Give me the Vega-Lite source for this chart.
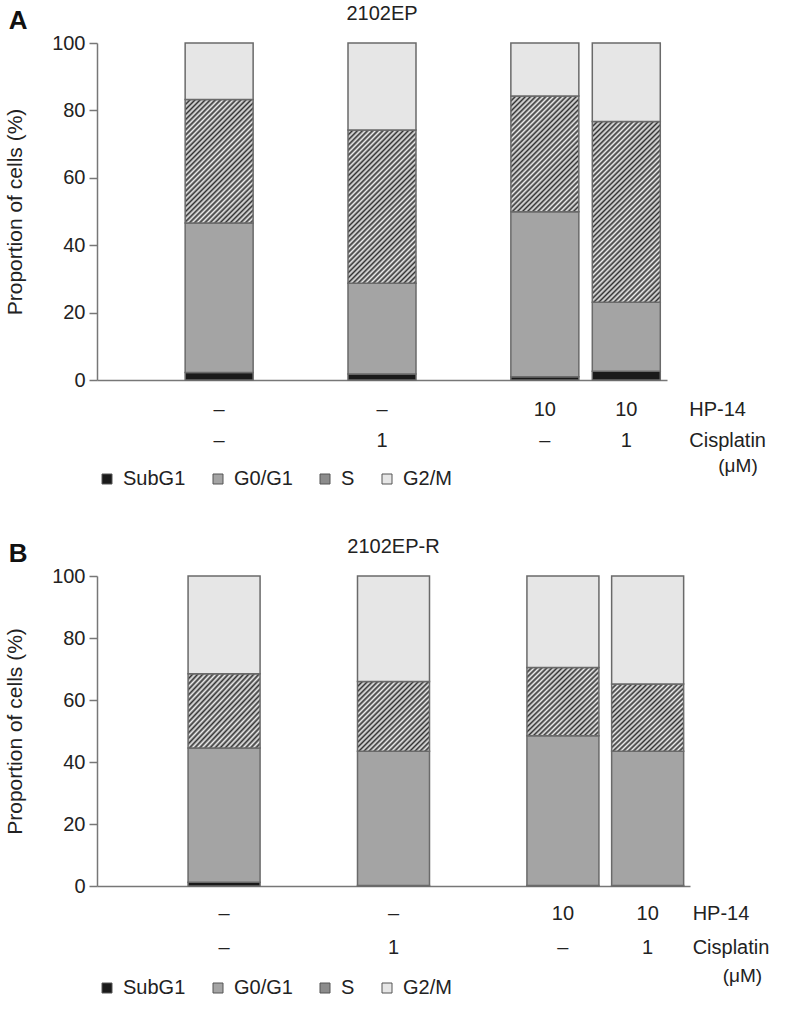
{
  "$schema": "https://vega.github.io/schema/vega-lite/v6.json",
  "background": "white",
  "padding": 4,
  "params": [
    {"name": "hatch", "value": [
      {"offset":0,"color":"#333333"},{"offset":0.01,"color":"#eeeeee"},{"offset":0.02,"color":"#333333"},{"offset":0.03,"color":"#eeeeee"},{"offset":0.04,"color":"#333333"},{"offset":0.05,"color":"#eeeeee"},{"offset":0.06,"color":"#333333"},{"offset":0.07,"color":"#eeeeee"},{"offset":0.08,"color":"#333333"},{"offset":0.09,"color":"#eeeeee"},
      {"offset":0.1,"color":"#333333"},{"offset":0.11,"color":"#eeeeee"},{"offset":0.12,"color":"#333333"},{"offset":0.13,"color":"#eeeeee"},{"offset":0.14,"color":"#333333"},{"offset":0.15,"color":"#eeeeee"},{"offset":0.16,"color":"#333333"},{"offset":0.17,"color":"#eeeeee"},{"offset":0.18,"color":"#333333"},{"offset":0.19,"color":"#eeeeee"},
      {"offset":0.2,"color":"#333333"},{"offset":0.21,"color":"#eeeeee"},{"offset":0.22,"color":"#333333"},{"offset":0.23,"color":"#eeeeee"},{"offset":0.24,"color":"#333333"},{"offset":0.25,"color":"#eeeeee"},{"offset":0.26,"color":"#333333"},{"offset":0.27,"color":"#eeeeee"},{"offset":0.28,"color":"#333333"},{"offset":0.29,"color":"#eeeeee"},
      {"offset":0.3,"color":"#333333"},{"offset":0.31,"color":"#eeeeee"},{"offset":0.32,"color":"#333333"},{"offset":0.33,"color":"#eeeeee"},{"offset":0.34,"color":"#333333"},{"offset":0.35,"color":"#eeeeee"},{"offset":0.36,"color":"#333333"},{"offset":0.37,"color":"#eeeeee"},{"offset":0.38,"color":"#333333"},{"offset":0.39,"color":"#eeeeee"},
      {"offset":0.4,"color":"#333333"},{"offset":0.41,"color":"#eeeeee"},{"offset":0.42,"color":"#333333"},{"offset":0.43,"color":"#eeeeee"},{"offset":0.44,"color":"#333333"},{"offset":0.45,"color":"#eeeeee"},{"offset":0.46,"color":"#333333"},{"offset":0.47,"color":"#eeeeee"},{"offset":0.48,"color":"#333333"},{"offset":0.49,"color":"#eeeeee"},
      {"offset":0.5,"color":"#333333"},{"offset":0.51,"color":"#eeeeee"},{"offset":0.52,"color":"#333333"},{"offset":0.53,"color":"#eeeeee"},{"offset":0.54,"color":"#333333"},{"offset":0.55,"color":"#eeeeee"},{"offset":0.56,"color":"#333333"},{"offset":0.57,"color":"#eeeeee"},{"offset":0.58,"color":"#333333"},{"offset":0.59,"color":"#eeeeee"},
      {"offset":0.6,"color":"#333333"},{"offset":0.61,"color":"#eeeeee"},{"offset":0.62,"color":"#333333"},{"offset":0.63,"color":"#eeeeee"},{"offset":0.64,"color":"#333333"},{"offset":0.65,"color":"#eeeeee"},{"offset":0.66,"color":"#333333"},{"offset":0.67,"color":"#eeeeee"},{"offset":0.68,"color":"#333333"},{"offset":0.69,"color":"#eeeeee"},
      {"offset":0.7,"color":"#333333"},{"offset":0.71,"color":"#eeeeee"},{"offset":0.72,"color":"#333333"},{"offset":0.73,"color":"#eeeeee"},{"offset":0.74,"color":"#333333"},{"offset":0.75,"color":"#eeeeee"},{"offset":0.76,"color":"#333333"},{"offset":0.77,"color":"#eeeeee"},{"offset":0.78,"color":"#333333"},{"offset":0.79,"color":"#eeeeee"},
      {"offset":0.8,"color":"#333333"},{"offset":0.81,"color":"#eeeeee"},{"offset":0.82,"color":"#333333"},{"offset":0.83,"color":"#eeeeee"},{"offset":0.84,"color":"#333333"},{"offset":0.85,"color":"#eeeeee"},{"offset":0.86,"color":"#333333"},{"offset":0.87,"color":"#eeeeee"},{"offset":0.88,"color":"#333333"},{"offset":0.89,"color":"#eeeeee"},
      {"offset":0.9,"color":"#333333"},{"offset":0.91,"color":"#eeeeee"},{"offset":0.92,"color":"#333333"},{"offset":0.93,"color":"#eeeeee"},{"offset":0.94,"color":"#333333"},{"offset":0.95,"color":"#eeeeee"},{"offset":0.96,"color":"#333333"},{"offset":0.97,"color":"#eeeeee"},{"offset":0.98,"color":"#333333"},{"offset":0.99,"color":"#eeeeee"},
      {"offset":1,"color":"#333333"}
    ]}
  ],
  "datasets": {
    "cycle": [
      {"panel":"A","treatment":"–|–","hp":"–","cis":"–","phase":"SubG1","lo":0,"hi":2.2},
      {"panel":"A","treatment":"–|–","hp":"–","cis":"–","phase":"G0/G1","lo":2.2,"hi":46.6},
      {"panel":"A","treatment":"–|–","hp":"–","cis":"–","phase":"S","lo":46.6,"hi":83.2},
      {"panel":"A","treatment":"–|–","hp":"–","cis":"–","phase":"G2/M","lo":83.2,"hi":100},
      {"panel":"A","treatment":"–|1","hp":"–","cis":"1","phase":"SubG1","lo":0,"hi":1.8},
      {"panel":"A","treatment":"–|1","hp":"–","cis":"1","phase":"G0/G1","lo":1.8,"hi":28.7},
      {"panel":"A","treatment":"–|1","hp":"–","cis":"1","phase":"S","lo":28.7,"hi":74.2},
      {"panel":"A","treatment":"–|1","hp":"–","cis":"1","phase":"G2/M","lo":74.2,"hi":100},
      {"panel":"A","treatment":"10|–","hp":"10","cis":"–","phase":"SubG1","lo":0,"hi":1.0},
      {"panel":"A","treatment":"10|–","hp":"10","cis":"–","phase":"G0/G1","lo":1.0,"hi":49.9},
      {"panel":"A","treatment":"10|–","hp":"10","cis":"–","phase":"S","lo":49.9,"hi":84.3},
      {"panel":"A","treatment":"10|–","hp":"10","cis":"–","phase":"G2/M","lo":84.3,"hi":100},
      {"panel":"A","treatment":"10|1","hp":"10","cis":"1","phase":"SubG1","lo":0,"hi":2.6},
      {"panel":"A","treatment":"10|1","hp":"10","cis":"1","phase":"G0/G1","lo":2.6,"hi":23.1},
      {"panel":"A","treatment":"10|1","hp":"10","cis":"1","phase":"S","lo":23.1,"hi":76.7},
      {"panel":"A","treatment":"10|1","hp":"10","cis":"1","phase":"G2/M","lo":76.7,"hi":100},
      {"panel":"B","treatment":"–|–","hp":"–","cis":"–","phase":"SubG1","lo":0,"hi":1.2},
      {"panel":"B","treatment":"–|–","hp":"–","cis":"–","phase":"G0/G1","lo":1.2,"hi":44.5},
      {"panel":"B","treatment":"–|–","hp":"–","cis":"–","phase":"S","lo":44.5,"hi":68.5},
      {"panel":"B","treatment":"–|–","hp":"–","cis":"–","phase":"G2/M","lo":68.5,"hi":100},
      {"panel":"B","treatment":"–|1","hp":"–","cis":"1","phase":"SubG1","lo":0,"hi":0.2},
      {"panel":"B","treatment":"–|1","hp":"–","cis":"1","phase":"G0/G1","lo":0.2,"hi":43.5},
      {"panel":"B","treatment":"–|1","hp":"–","cis":"1","phase":"S","lo":43.5,"hi":66},
      {"panel":"B","treatment":"–|1","hp":"–","cis":"1","phase":"G2/M","lo":66,"hi":100},
      {"panel":"B","treatment":"10|–","hp":"10","cis":"–","phase":"SubG1","lo":0,"hi":0.2},
      {"panel":"B","treatment":"10|–","hp":"10","cis":"–","phase":"G0/G1","lo":0.2,"hi":48.5},
      {"panel":"B","treatment":"10|–","hp":"10","cis":"–","phase":"S","lo":48.5,"hi":70.5},
      {"panel":"B","treatment":"10|–","hp":"10","cis":"–","phase":"G2/M","lo":70.5,"hi":100},
      {"panel":"B","treatment":"10|1","hp":"10","cis":"1","phase":"SubG1","lo":0,"hi":0.2},
      {"panel":"B","treatment":"10|1","hp":"10","cis":"1","phase":"G0/G1","lo":0.2,"hi":43.5},
      {"panel":"B","treatment":"10|1","hp":"10","cis":"1","phase":"S","lo":43.5,"hi":65.2},
      {"panel":"B","treatment":"10|1","hp":"10","cis":"1","phase":"G2/M","lo":65.2,"hi":100}
    ]
  },
  "spacing": 48,
  "resolve": {"scale": {"x": "independent", "y": "independent", "fill": "independent"}, "legend": {"fill": "independent"}},
  "vconcat": [
    {
      "title": {"text": "A", "anchor": "start", "frame": "bounds", "fontSize": 26, "fontWeight": "bold", "offset": -30, "dx": 4, "color": "#111111"},
      "resolve": {"scale": {"x": "independent", "y": "independent", "fill": "independent"}, "legend": {"fill": "independent"}},
      "vconcat": [
        {
          "title": {"text": "2102EP", "fontSize": 20, "fontWeight": "normal", "offset": 9, "color": "#222222"},
          "width": 570,
          "height": 337,
          "data": {"name": "cycle"},
          "transform": [{"filter": "datum.panel === 'A'"}],
          "encoding": {
            "x": {"field": "treatment", "type": "nominal", "title": null,
                  "scale": {"domain": ["e1", "–|–", "e3", "–|1", "e5", "10|–", "10|1"], "paddingInner": 0.165, "paddingOuter": 0.0825},
                  "axis": {"labels": false, "ticks": false, "domainColor": "#777777", "domainWidth": 1.5}}
          },
          "layer": [
            {
              "mark": {"type": "bar", "stroke": "#6a6a6a", "strokeWidth": 1.5},
              "encoding": {
                "y": {"field": "hi", "type": "quantitative", "scale": {"domain": [0, 100]},
                      "axis": {"values": [0, 20, 40, 60, 80, 100], "title": "Proportion of cells (%)", "titleFontSize": 21, "titleFontWeight": "normal", "titlePadding": 26,
                               "labelFontSize": 20, "labelPadding": 4, "tickSize": 8, "tickWidth": 1.5, "tickColor": "#777777", "domainColor": "#777777", "domainWidth": 1.5, "grid": false}},
                "y2": {"field": "lo"},
                "fill": {
                  "field": "phase", "type": "nominal",
                  "scale": {"domain": ["SubG1", "G0/G1", "S", "G2/M"], "range": ["#1a1a1a", "#a4a4a4", "#8c8c8c", "#e6e6e6"]},
                  "condition": [
                    {"test": "datum.phase === 'S' && datum.treatment === '–|–'", "value": {"expr": "{gradient: 'linear', x1: 0, y1: 0, x2: 0.876, y2: 1.585, stops: hatch}"}},
                    {"test": "datum.phase === 'S' && datum.treatment === '–|1'", "value": {"expr": "{gradient: 'linear', x1: 0, y1: 0, x2: 0.618, y2: 1.390, stops: hatch}"}},
                    {"test": "datum.phase === 'S' && datum.treatment === '10|–'", "value": {"expr": "{gradient: 'linear', x1: 0, y1: 0, x2: 0.958, y2: 1.633, stops: hatch}"}},
                    {"test": "datum.phase === 'S' && datum.treatment === '10|1'", "value": {"expr": "{gradient: 'linear', x1: 0, y1: 0, x2: 0.459, y2: 1.228, stops: hatch}"}}
                  ],
                  "legend": {"orient": "bottom", "direction": "horizontal", "title": null, "offset": 89, "padding": 0,
                             "symbolType": "square", "symbolSize": 100, "symbolStrokeColor": "#555555", "symbolStrokeWidth": 1,
                             "labelFontSize": 20, "labelOffset": 6, "columnPadding": 22}
                }
              }
            },
            {
              "transform": [{"filter": "datum.phase === 'SubG1'"}],
              "mark": {"type": "text", "fontSize": 20, "baseline": "middle", "color": "#222222"},
              "encoding": {
                "y": {"datum": -8.9, "type": "quantitative"},
                "text": {"field": "hp"}
              }
            },
            {
              "transform": [{"filter": "datum.phase === 'SubG1'"}],
              "mark": {"type": "text", "fontSize": 20, "baseline": "middle", "color": "#222222"},
              "encoding": {
                "y": {"datum": -18.2, "type": "quantitative"},
                "text": {"field": "cis"}
              }
            },
            {
              "transform": [{"filter": "datum.phase === 'SubG1' && datum.treatment === '10|1'"}],
              "mark": {"type": "text", "fontSize": 20, "baseline": "middle", "align": "left", "dx": 63, "color": "#222222"},
              "encoding": {
                "y": {"datum": -8.9, "type": "quantitative"},
                "text": {"value": "HP-14"}
              }
            },
            {
              "transform": [{"filter": "datum.phase === 'SubG1' && datum.treatment === '10|1'"}],
              "mark": {"type": "text", "fontSize": 20, "baseline": "middle", "align": "left", "dx": 63, "color": "#222222"},
              "encoding": {
                "y": {"datum": -18.2, "type": "quantitative"},
                "text": {"value": "Cisplatin"}
              }
            },
            {
              "transform": [{"filter": "datum.phase === 'SubG1' && datum.treatment === '10|1'"}],
              "mark": {"type": "text", "fontSize": 19, "baseline": "middle", "align": "left", "dx": 92, "color": "#222222"},
              "encoding": {
                "y": {"datum": -25.6, "type": "quantitative"},
                "text": {"value": "(μM)"}
              }
            }
          ]
        }
      ]
    },
    {
      "title": {"text": "B", "anchor": "start", "frame": "bounds", "fontSize": 26, "fontWeight": "bold", "offset": -30, "dx": 4, "color": "#111111"},
      "resolve": {"scale": {"x": "independent", "y": "independent", "fill": "independent"}, "legend": {"fill": "independent"}},
      "vconcat": [
        {
          "title": {"text": "2102EP-R", "fontSize": 20, "fontWeight": "normal", "offset": 9, "color": "#222222"},
          "width": 593,
          "height": 310,
          "data": {"name": "cycle"},
          "transform": [{"filter": "datum.panel === 'B'"}],
          "encoding": {
            "x": {"field": "treatment", "type": "nominal", "title": null,
                  "scale": {"domain": ["e1", "–|–", "e3", "–|1", "e5", "10|–", "10|1"], "paddingInner": 0.15, "paddingOuter": 0.075},
                  "axis": {"labels": false, "ticks": false, "domainColor": "#777777", "domainWidth": 1.5}}
          },
          "layer": [
            {
              "mark": {"type": "bar", "stroke": "#6a6a6a", "strokeWidth": 1.5},
              "encoding": {
                "y": {"field": "hi", "type": "quantitative", "scale": {"domain": [0, 100]},
                      "axis": {"values": [0, 20, 40, 60, 80, 100], "title": "Proportion of cells (%)", "titleFontSize": 21, "titleFontWeight": "normal", "titlePadding": 26,
                               "labelFontSize": 20, "labelPadding": 4, "tickSize": 8, "tickWidth": 1.5, "tickColor": "#777777", "domainColor": "#777777", "domainWidth": 1.5, "grid": false}},
                "y2": {"field": "lo"},
                "fill": {
                  "field": "phase", "type": "nominal",
                  "scale": {"domain": ["SubG1", "G0/G1", "S", "G2/M"], "range": ["#1a1a1a", "#a4a4a4", "#8c8c8c", "#e6e6e6"]},
                  "condition": [
                    {"test": "datum.phase === 'S'", "value": {"expr": "{gradient: 'linear', x1: 0, y1: 0, x2: 1.82, y2: 1.77, stops: hatch}"}}
                  ],
                  "legend": {"orient": "bottom", "direction": "horizontal", "title": null, "offset": 92, "padding": 0,
                             "symbolType": "square", "symbolSize": 100, "symbolStrokeColor": "#555555", "symbolStrokeWidth": 1,
                             "labelFontSize": 20, "labelOffset": 6, "columnPadding": 22}
                }
              }
            },
            {
              "transform": [{"filter": "datum.phase === 'SubG1'"}],
              "mark": {"type": "text", "fontSize": 20, "baseline": "middle", "color": "#222222"},
              "encoding": {
                "y": {"datum": -9.0, "type": "quantitative"},
                "text": {"field": "hp"}
              }
            },
            {
              "transform": [{"filter": "datum.phase === 'SubG1'"}],
              "mark": {"type": "text", "fontSize": 20, "baseline": "middle", "color": "#222222"},
              "encoding": {
                "y": {"datum": -20.0, "type": "quantitative"},
                "text": {"field": "cis"}
              }
            },
            {
              "transform": [{"filter": "datum.phase === 'SubG1' && datum.treatment === '10|1'"}],
              "mark": {"type": "text", "fontSize": 20, "baseline": "middle", "align": "left", "dx": 45, "color": "#222222"},
              "encoding": {
                "y": {"datum": -9.0, "type": "quantitative"},
                "text": {"value": "HP-14"}
              }
            },
            {
              "transform": [{"filter": "datum.phase === 'SubG1' && datum.treatment === '10|1'"}],
              "mark": {"type": "text", "fontSize": 20, "baseline": "middle", "align": "left", "dx": 45, "color": "#222222"},
              "encoding": {
                "y": {"datum": -20.0, "type": "quantitative"},
                "text": {"value": "Cisplatin"}
              }
            },
            {
              "transform": [{"filter": "datum.phase === 'SubG1' && datum.treatment === '10|1'"}],
              "mark": {"type": "text", "fontSize": 19, "baseline": "middle", "align": "left", "dx": 75, "color": "#222222"},
              "encoding": {
                "y": {"datum": -29.0, "type": "quantitative"},
                "text": {"value": "(μM)"}
              }
            }
          ]
        }
      ]
    }
  ],
  "config": {
    "font": "Liberation Sans",
    "view": {"stroke": null},
    "axis": {"labelColor": "#222222", "titleColor": "#222222"},
    "legend": {"labelColor": "#222222"}
  }
}
